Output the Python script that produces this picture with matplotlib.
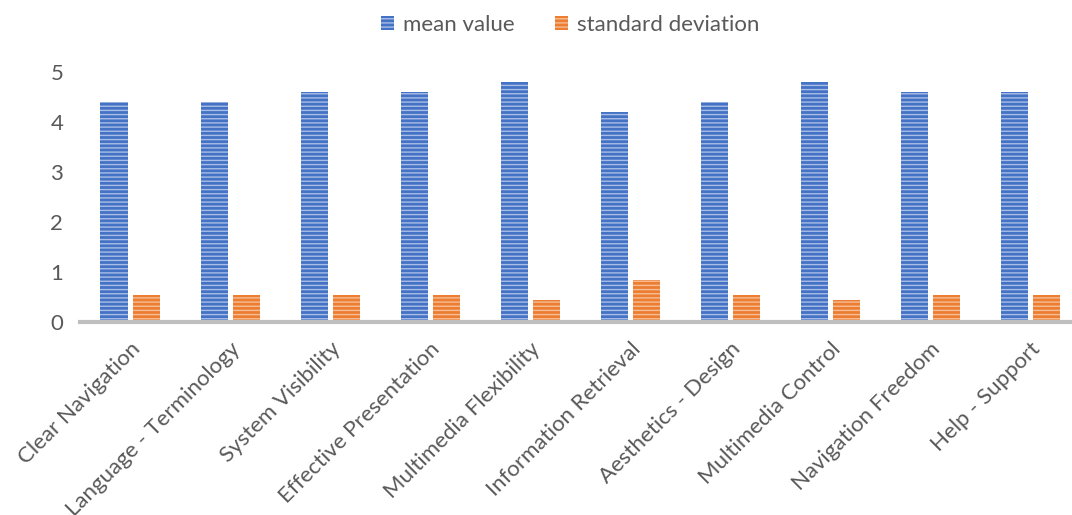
import matplotlib.pyplot as plt
import numpy as np
from matplotlib.patches import Patch

plt.rcParams['font.family'] = ['Lato', 'DejaVu Sans']

categories = ['Clear Navigation', 'Language - Terminology', 'System Visibility',
              'Effective Presentation', 'Multimedia Flexibility', 'Information Retrieval',
              'Aesthetics - Design', 'Multimedia Control', 'Navigation Freedom', 'Help - Support']
mean_value = [4.4, 4.4, 4.6, 4.6, 4.8, 4.2, 4.4, 4.8, 4.6, 4.6]
std_dev = [0.55, 0.55, 0.55, 0.55, 0.45, 0.84, 0.55, 0.45, 0.55, 0.55]

blue = '#4472C4'
blue_light = '#A9BEE6'
orange = '#ED7D31'
orange_light = '#F6BE98'
txt = '#595959'

plt.rcParams['hatch.linewidth'] = 1.0

fig = plt.figure(figsize=(10.72, 5.15), dpi=100)
ax = fig.add_axes([80 / 1072, 193 / 515, 1000 / 1072, 250 / 515])

x = np.arange(len(categories))
w = 0.27
ax.bar(x - 0.16, mean_value, w, color=blue, edgecolor=blue_light, linewidth=0, hatch='----')
ax.bar(x + 0.16, std_dev, w, color=orange, edgecolor=orange_light, linewidth=0, hatch='----')

ax.set_xlim(-0.5, 9.5)
ax.set_ylim(0, 5)
ax.set_yticks([0, 1, 2, 3, 4, 5])
for s in ['top', 'right', 'left']:
    ax.spines[s].set_visible(False)
ax.spines['bottom'].set_color('#BFBFBF')
ax.spines['bottom'].set_linewidth(3)
ax.spines['bottom'].set_zorder(5)
ax.tick_params(axis='both', length=0, labelsize=16, colors=txt)
ax.tick_params(axis='y', pad=12)
ax.set_xticks(x)
ax.set_xticklabels(categories, rotation=45, ha='right', rotation_mode='anchor')
ax.tick_params(axis='x', pad=12)

handles = [Patch(facecolor=blue, edgecolor=blue_light, linewidth=0, hatch='----', label='mean value'),
           Patch(facecolor=orange, edgecolor=orange_light, linewidth=0, hatch='----', label='standard deviation')]
fig.legend(handles=handles, loc='center', bbox_to_anchor=(570 / 1072, 1 - 25 / 515), ncol=2,
           frameon=False, fontsize=16, labelcolor=txt, handlelength=0.6, handleheight=0.6,
           handletextpad=0.4, columnspacing=1.8)

fig.savefig('out.png', dpi=100)
